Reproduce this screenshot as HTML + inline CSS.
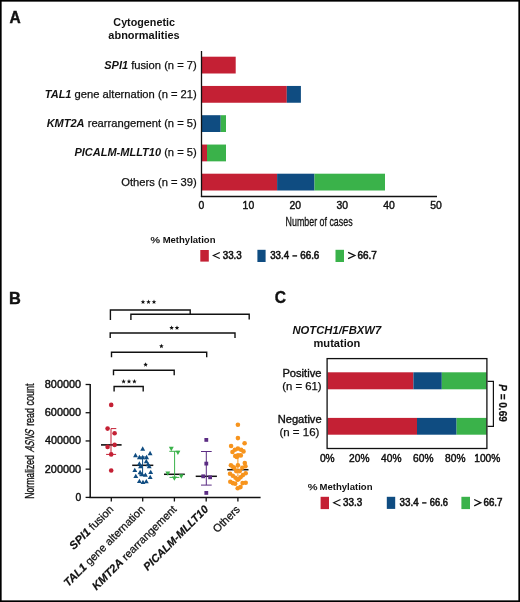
<!DOCTYPE html>
<html><head><meta charset="utf-8"><title>Figure</title><style>
html,body{margin:0;padding:0;background:#fff;width:520px;height:602px;overflow:hidden}
svg{display:block;will-change:transform}
text{font-family:"Liberation Sans",sans-serif}
</style></head><body>
<svg width="520" height="602" viewBox="0 0 520 602">
<rect x="0" y="0" width="520" height="602" fill="#fff"/>
<text x="9.41" y="22.6" font-size="16.2" font-weight="bold" font-style="normal" fill="#111" textLength="11.21" lengthAdjust="spacingAndGlyphs" stroke="#111" stroke-width="0.4">A</text>
<text x="113.37" y="25.8" font-size="10.9" font-weight="bold" font-style="normal" fill="#111" textLength="61.59" lengthAdjust="spacingAndGlyphs" >Cytogenetic</text>
<text x="108.37" y="38.5" font-size="10.9" font-weight="bold" font-style="normal" fill="#111" textLength="71.29" lengthAdjust="spacingAndGlyphs" >abnormalities</text>
<rect x="201.50" y="56.70" width="34.20" height="16.80" fill="#C42034"/>
<text x="196.8" y="68.60000000000001" font-size="11" text-anchor="end" fill="#111"><tspan font-weight="bold" font-style="italic">SPI1</tspan><tspan font-size="11.2" stroke="#111" stroke-width="0.25"> fusion (n = 7)</tspan></text>
<rect x="201.50" y="85.95" width="85.30" height="16.80" fill="#C42034"/>
<rect x="286.80" y="85.95" width="14.10" height="16.80" fill="#0F4C81"/>
<text x="196.8" y="97.85000000000001" font-size="11" text-anchor="end" fill="#111"><tspan font-weight="bold" font-style="italic">TAL1</tspan><tspan font-size="11.2" stroke="#111" stroke-width="0.25"> gene alternation (n = 21)</tspan></text>
<rect x="201.50" y="115.20" width="19.20" height="16.80" fill="#0F4C81"/>
<rect x="220.70" y="115.20" width="5.30" height="16.80" fill="#3AB24A"/>
<text x="196.8" y="127.10000000000001" font-size="11" text-anchor="end" fill="#111"><tspan font-weight="bold" font-style="italic">KMT2A</tspan><tspan font-size="11.2" stroke="#111" stroke-width="0.25"> rearrangement (n = 5)</tspan></text>
<rect x="201.50" y="144.55" width="5.50" height="16.80" fill="#C42034"/>
<rect x="207.00" y="144.55" width="19.00" height="16.80" fill="#3AB24A"/>
<text x="196.8" y="156.45000000000002" font-size="11" text-anchor="end" fill="#111"><tspan font-weight="bold" font-style="italic">PICALM-MLLT10</tspan><tspan font-size="11.2" stroke="#111" stroke-width="0.25"> (n = 5)</tspan></text>
<rect x="201.50" y="173.70" width="75.60" height="16.80" fill="#C42034"/>
<rect x="277.10" y="173.70" width="37.40" height="16.80" fill="#0F4C81"/>
<rect x="314.50" y="173.70" width="70.50" height="16.80" fill="#3AB24A"/>
<text x="196.8" y="185.6" font-size="11.2" font-weight="normal" font-style="normal" text-anchor="end" fill="#111" stroke="#111" stroke-width="0.25">Others (n = 39)</text>
<line x1="201.5" y1="51" x2="201.5" y2="197" stroke="#111" stroke-width="1.3"/>
<line x1="200.9" y1="196.5" x2="437" y2="196.5" stroke="#111" stroke-width="1.3"/>
<text x="201.5" y="208.8" font-size="10.4" font-weight="normal" font-style="normal" text-anchor="middle" fill="#111" stroke="#111" stroke-width="0.42">0</text>
<text x="248.4" y="208.8" font-size="10.4" font-weight="normal" font-style="normal" text-anchor="middle" fill="#111" stroke="#111" stroke-width="0.42">10</text>
<text x="295.3" y="208.8" font-size="10.4" font-weight="normal" font-style="normal" text-anchor="middle" fill="#111" stroke="#111" stroke-width="0.42">20</text>
<text x="342.20000000000005" y="208.8" font-size="10.4" font-weight="normal" font-style="normal" text-anchor="middle" fill="#111" stroke="#111" stroke-width="0.42">30</text>
<text x="389.1" y="208.8" font-size="10.4" font-weight="normal" font-style="normal" text-anchor="middle" fill="#111" stroke="#111" stroke-width="0.42">40</text>
<text x="436.0" y="208.8" font-size="10.4" font-weight="normal" font-style="normal" text-anchor="middle" fill="#111" stroke="#111" stroke-width="0.42">50</text>
<text x="285.59" y="226" font-size="12.8" font-weight="normal" font-style="normal" fill="#111" textLength="67.01" lengthAdjust="spacingAndGlyphs" stroke="#111" stroke-width="0.3">Number of cases</text>
<text x="150.62" y="242.8" font-size="9.5" font-weight="normal" font-style="normal" fill="#111" textLength="9.54" lengthAdjust="spacingAndGlyphs" stroke="#111" stroke-width="0.25">%</text>
<text x="162.68" y="242.8" font-size="9.5" font-weight="bold" font-style="normal" fill="#111" textLength="52.80" lengthAdjust="spacingAndGlyphs" >Methylation</text>
<rect x="200.30" y="250.00" width="8.50" height="11.60" fill="#C42034"/>
<path d="M219.8,252.6 L213.3,255.60000000000002 L219.8,258.6" fill="none" stroke="#111" stroke-width="1.1"/>
<text x="222.71" y="258.9" font-size="10.1" font-weight="normal" font-style="normal" fill="#111" textLength="19.04" lengthAdjust="spacingAndGlyphs" stroke="#111" stroke-width="0.55">33.3</text>
<rect x="257.40" y="249.80" width="8.20" height="12.20" fill="#0F4C81"/>
<text x="270.21" y="258.9" font-size="10.1" font-weight="normal" font-style="normal" fill="#111" textLength="18.89" lengthAdjust="spacingAndGlyphs" stroke="#111" stroke-width="0.55">33.4</text>
<line x1="292.4" y1="255.9" x2="297.1" y2="255.9" stroke="#111" stroke-width="1.4"/>
<text x="300.21" y="258.9" font-size="10.1" font-weight="normal" font-style="normal" fill="#111" textLength="19.15" lengthAdjust="spacingAndGlyphs" stroke="#111" stroke-width="0.55">66.6</text>
<rect x="335.50" y="249.80" width="8.50" height="12.20" fill="#3AB24A"/>
<path d="M348.1,252.4 L354.8,255.5 L348.1,258.6" fill="none" stroke="#111" stroke-width="1.3"/>
<text x="357.40" y="258.9" font-size="10.1" font-weight="normal" font-style="normal" fill="#111" textLength="19.31" lengthAdjust="spacingAndGlyphs" stroke="#111" stroke-width="0.55">66.7</text>
<text x="8.93" y="303.6" font-size="16.2" font-weight="bold" font-style="normal" fill="#111" textLength="11.84" lengthAdjust="spacingAndGlyphs" stroke="#111" stroke-width="0.4">B</text>
<line x1="90.2" y1="384" x2="90.2" y2="498.1" stroke="#111" stroke-width="1.5"/>
<line x1="89.4" y1="497.4" x2="260.6" y2="497.4" stroke="#111" stroke-width="1.5"/>
<line x1="85.6" y1="497.4" x2="90.2" y2="497.4" stroke="#111" stroke-width="1.3"/>
<text x="75.49" y="500.84999999999997" font-size="10.4" font-weight="normal" font-style="normal" fill="#111" textLength="5.74" lengthAdjust="spacingAndGlyphs" stroke="#111" stroke-width="0.42">0</text>
<line x1="85.6" y1="469.17499999999995" x2="90.2" y2="469.17499999999995" stroke="#111" stroke-width="1.3"/>
<text x="44.75" y="472.62499999999994" font-size="10.4" font-weight="normal" font-style="normal" fill="#111" textLength="36.40" lengthAdjust="spacingAndGlyphs" stroke="#111" stroke-width="0.42">200000</text>
<line x1="85.6" y1="440.95" x2="90.2" y2="440.95" stroke="#111" stroke-width="1.3"/>
<text x="45.03" y="444.4" font-size="10.4" font-weight="normal" font-style="normal" fill="#111" textLength="36.13" lengthAdjust="spacingAndGlyphs" stroke="#111" stroke-width="0.42">400000</text>
<line x1="85.6" y1="412.72499999999997" x2="90.2" y2="412.72499999999997" stroke="#111" stroke-width="1.3"/>
<text x="44.75" y="416.17499999999995" font-size="10.4" font-weight="normal" font-style="normal" fill="#111" textLength="36.40" lengthAdjust="spacingAndGlyphs" stroke="#111" stroke-width="0.42">600000</text>
<line x1="85.6" y1="384.5" x2="90.2" y2="384.5" stroke="#111" stroke-width="1.3"/>
<text x="44.81" y="387.95" font-size="10.4" font-weight="normal" font-style="normal" fill="#111" textLength="36.35" lengthAdjust="spacingAndGlyphs" stroke="#111" stroke-width="0.42">800000</text>
<line x1="111.3" y1="497.4" x2="111.3" y2="501.5" stroke="#111" stroke-width="1.3"/>
<line x1="142.7" y1="497.4" x2="142.7" y2="501.5" stroke="#111" stroke-width="1.3"/>
<line x1="174.4" y1="497.4" x2="174.4" y2="501.5" stroke="#111" stroke-width="1.3"/>
<line x1="206.2" y1="497.4" x2="206.2" y2="501.5" stroke="#111" stroke-width="1.3"/>
<line x1="237.9" y1="497.4" x2="237.9" y2="501.5" stroke="#111" stroke-width="1.3"/>
<g transform="rotate(-90)">
<text x="-498.69" y="33.8" font-size="12.8" font-weight="normal" font-style="normal" fill="#111" textLength="43.57" lengthAdjust="spacingAndGlyphs" stroke="#111" stroke-width="0.35">Normalized</text>
<g transform="translate(0,33.8) skewX(-16) translate(0,-33.8)">
<text x="-452.24" y="33.8" font-size="12.8" font-weight="normal" font-style="normal" fill="#111" textLength="21.83" lengthAdjust="spacingAndGlyphs" stroke="#111" stroke-width="0.35">ASNS</text>
</g>
<text x="-425.87" y="33.8" font-size="12.8" font-weight="normal" font-style="normal" fill="#111" textLength="17.66" lengthAdjust="spacingAndGlyphs" stroke="#111" stroke-width="0.35">read</text>
<text x="-405.61" y="33.8" font-size="12.8" font-weight="normal" font-style="normal" fill="#111" textLength="22.06" lengthAdjust="spacingAndGlyphs" stroke="#111" stroke-width="0.35">count</text>
</g>
<path d="M110.4,320 V310 H190.2 V314.3" fill="none" stroke="#111" stroke-width="1.4"/>
<path d="M130.9,320 V314.3 H249.2 V319.5" fill="none" stroke="#111" stroke-width="1.4"/>
<path d="M110.2,338 V333 H235 V338" fill="none" stroke="#111" stroke-width="1.4"/>
<path d="M111.5,357.3 V352.2 H206.7 V357.3" fill="none" stroke="#111" stroke-width="1.4"/>
<path d="M113.5,375.2 V370.2 H174.2 V375.2" fill="none" stroke="#111" stroke-width="1.4"/>
<path d="M114.1,391.5 V386.5 H143.2 V391.5" fill="none" stroke="#111" stroke-width="1.4"/>
<polygon points="143.00,299.60 143.63,301.13 145.28,301.26 144.03,302.33 144.41,303.94 143.00,303.08 141.59,303.94 141.97,302.33 140.72,301.26 142.37,301.13" fill="#111"/>
<polygon points="148.50,299.60 149.13,301.13 150.78,301.26 149.53,302.33 149.91,303.94 148.50,303.08 147.09,303.94 147.47,302.33 146.22,301.26 147.87,301.13" fill="#111"/>
<polygon points="154.00,299.60 154.63,301.13 156.28,301.26 155.03,302.33 155.41,303.94 154.00,303.08 152.59,303.94 152.97,302.33 151.72,301.26 153.37,301.13" fill="#111"/>
<polygon points="171.60,325.40 172.23,326.93 173.88,327.06 172.63,328.13 173.01,329.74 171.60,328.88 170.19,329.74 170.57,328.13 169.32,327.06 170.97,326.93" fill="#111"/>
<polygon points="177.00,325.40 177.63,326.93 179.28,327.06 178.03,328.13 178.41,329.74 177.00,328.88 175.59,329.74 175.97,328.13 174.72,327.06 176.37,326.93" fill="#111"/>
<polygon points="161.40,343.80 162.03,345.33 163.68,345.46 162.43,346.53 162.81,348.14 161.40,347.28 159.99,348.14 160.37,346.53 159.12,345.46 160.77,345.33" fill="#111"/>
<polygon points="145.60,362.30 146.23,363.83 147.88,363.96 146.63,365.03 147.01,366.64 145.60,365.78 144.19,366.64 144.57,365.03 143.32,363.96 144.97,363.83" fill="#111"/>
<polygon points="123.60,379.10 124.23,380.63 125.88,380.76 124.63,381.83 125.01,383.44 123.60,382.58 122.19,383.44 122.57,381.83 121.32,380.76 122.97,380.63" fill="#111"/>
<polygon points="129.00,379.10 129.63,380.63 131.28,380.76 130.03,381.83 130.41,383.44 129.00,382.58 127.59,383.44 127.97,381.83 126.72,380.76 128.37,380.63" fill="#111"/>
<polygon points="134.40,379.10 135.03,380.63 136.68,380.76 135.43,381.83 135.81,383.44 134.40,382.58 132.99,383.44 133.37,381.83 132.12,380.76 133.77,380.63" fill="#111"/>
<line x1="101" y1="444.9" x2="121.6" y2="444.9" stroke="#111" stroke-width="1.6"/>
<path d="M111,428.6 V454.4 M111,428.6 H116.3 M106.1,454.4 H116.1" fill="none" stroke="#C42034" stroke-width="1.0"/>
<circle cx="111.2" cy="404.9" r="2.3" fill="#C42034"/>
<circle cx="107.6" cy="428.6" r="2.3" fill="#C42034"/>
<circle cx="114.6" cy="433.3" r="2.3" fill="#C42034"/>
<circle cx="114.6" cy="444.9" r="2.3" fill="#C42034"/>
<circle cx="107.6" cy="446.9" r="2.3" fill="#C42034"/>
<circle cx="111.2" cy="454.4" r="2.3" fill="#C42034"/>
<circle cx="111.2" cy="470.5" r="2.3" fill="#C42034"/>
<line x1="132.2" y1="465.3" x2="153.3" y2="465.3" stroke="#111" stroke-width="1.5"/>
<path d="M142.6,457 V475 M139,457 H146.5 M139,475 H146.5" fill="none" stroke="#0F4C81" stroke-width="1.0"/>
<polygon points="140.25,450.63 145.15,450.63 142.70,446.37" fill="#0F4C81"/>
<polygon points="133.05,457.13 137.95,457.13 135.50,452.87" fill="#0F4C81"/>
<polygon points="147.65,455.13 152.55,455.13 150.10,450.87" fill="#0F4C81"/>
<polygon points="136.95,459.13 141.85,459.13 139.40,454.87" fill="#0F4C81"/>
<polygon points="140.25,459.13 145.15,459.13 142.70,454.87" fill="#0F4C81"/>
<polygon points="144.15,459.13 149.05,459.13 146.60,454.87" fill="#0F4C81"/>
<polygon points="143.85,463.13 148.75,463.13 146.30,458.87" fill="#0F4C81"/>
<polygon points="136.95,465.53 141.85,465.53 139.40,461.27" fill="#0F4C81"/>
<polygon points="145.55,466.13 150.45,466.13 148.00,461.87" fill="#0F4C81"/>
<polygon points="138.15,468.13 143.05,468.13 140.60,463.87" fill="#0F4C81"/>
<polygon points="146.75,468.13 151.65,468.13 149.20,463.87" fill="#0F4C81"/>
<polygon points="132.35,472.03 137.25,472.03 134.80,467.77" fill="#0F4C81"/>
<polygon points="137.65,474.13 142.55,474.13 140.10,469.87" fill="#0F4C81"/>
<polygon points="139.55,476.13 144.45,476.13 142.00,471.87" fill="#0F4C81"/>
<polygon points="148.25,473.93 153.15,473.93 150.70,469.67" fill="#0F4C81"/>
<polygon points="133.35,478.03 138.25,478.03 135.80,473.77" fill="#0F4C81"/>
<polygon points="142.95,476.83 147.85,476.83 145.40,472.57" fill="#0F4C81"/>
<polygon points="147.75,478.93 152.65,478.93 150.20,474.67" fill="#0F4C81"/>
<polygon points="136.95,483.03 141.85,483.03 139.40,478.77" fill="#0F4C81"/>
<polygon points="140.55,484.03 145.45,484.03 143.00,479.77" fill="#0F4C81"/>
<polygon points="143.85,483.33 148.75,483.33 146.30,479.07" fill="#0F4C81"/>
<line x1="164" y1="474.3" x2="184.8" y2="474.3" stroke="#111" stroke-width="1.5"/>
<path d="M174.6,451.3 V478 M169.3,451.3 H179.6 M169.5,477.4 H179.3" fill="none" stroke="#3AB24A" stroke-width="1.0"/>
<polygon points="168.85,446.87 173.75,446.87 171.30,451.13" fill="#3AB24A"/>
<polygon points="175.45,450.77 180.35,450.77 177.90,455.03" fill="#3AB24A"/>
<polygon points="165.35,471.57 170.25,471.57 167.80,475.83" fill="#3AB24A"/>
<polygon points="178.85,474.37 183.75,474.37 181.30,478.63" fill="#3AB24A"/>
<polygon points="171.95,476.47 176.85,476.47 174.40,480.73" fill="#3AB24A"/>
<line x1="195.7" y1="476.3" x2="216.9" y2="476.3" stroke="#111" stroke-width="1.5"/>
<path d="M206.3,451.5 V485.1 M201,451.5 H211.7 M201,485.1 H211.7" fill="none" stroke="#5B2C83" stroke-width="1.0"/>
<rect x="204.40" y="438.00" width="3.8" height="3.8" fill="#5B2C83"/>
<rect x="204.40" y="461.70" width="3.8" height="3.8" fill="#5B2C83"/>
<rect x="201.30" y="474.40" width="3.8" height="3.8" fill="#5B2C83"/>
<rect x="208.20" y="475.40" width="3.8" height="3.8" fill="#5B2C83"/>
<rect x="204.40" y="491.00" width="3.8" height="3.8" fill="#5B2C83"/>
<line x1="227.2" y1="469.7" x2="248.5" y2="469.7" stroke="#111" stroke-width="1.5"/>
<path d="M237.9,457 V476" fill="none" stroke="#F7941D" stroke-width="1.0"/>
<circle cx="237.9" cy="424.7" r="2.3" fill="#F7941D"/>
<circle cx="237.9" cy="438.1" r="2.3" fill="#F7941D"/>
<circle cx="244.6" cy="443.3" r="2.3" fill="#F7941D"/>
<circle cx="231.1" cy="446" r="2.3" fill="#F7941D"/>
<circle cx="232.5" cy="452" r="2.3" fill="#F7941D"/>
<circle cx="234.9" cy="449.8" r="2.3" fill="#F7941D"/>
<circle cx="237.9" cy="448.6" r="2.3" fill="#F7941D"/>
<circle cx="241.1" cy="449.8" r="2.3" fill="#F7941D"/>
<circle cx="243.5" cy="451.4" r="2.3" fill="#F7941D"/>
<circle cx="235.2" cy="456" r="2.3" fill="#F7941D"/>
<circle cx="238" cy="455.4" r="2.3" fill="#F7941D"/>
<circle cx="240.8" cy="455.4" r="2.3" fill="#F7941D"/>
<circle cx="236.8" cy="457" r="2.3" fill="#F7941D"/>
<circle cx="230.9" cy="465.2" r="2.3" fill="#F7941D"/>
<circle cx="232.8" cy="466.8" r="2.3" fill="#F7941D"/>
<circle cx="234.3" cy="468" r="2.3" fill="#F7941D"/>
<circle cx="237.9" cy="465.2" r="2.3" fill="#F7941D"/>
<circle cx="244.8" cy="463.1" r="2.3" fill="#F7941D"/>
<circle cx="245.4" cy="466.2" r="2.3" fill="#F7941D"/>
<circle cx="242.3" cy="467.7" r="2.3" fill="#F7941D"/>
<circle cx="236.2" cy="471.1" r="2.3" fill="#F7941D"/>
<circle cx="239.8" cy="471.1" r="2.3" fill="#F7941D"/>
<circle cx="230" cy="473.8" r="2.3" fill="#F7941D"/>
<circle cx="232.8" cy="475.7" r="2.3" fill="#F7941D"/>
<circle cx="235.5" cy="477.8" r="2.3" fill="#F7941D"/>
<circle cx="237.4" cy="479.7" r="2.3" fill="#F7941D"/>
<circle cx="245.7" cy="473.2" r="2.3" fill="#F7941D"/>
<circle cx="242.9" cy="475.1" r="2.3" fill="#F7941D"/>
<circle cx="240.5" cy="477.2" r="2.3" fill="#F7941D"/>
<circle cx="238.6" cy="479.1" r="2.3" fill="#F7941D"/>
<circle cx="230.3" cy="481.8" r="2.3" fill="#F7941D"/>
<circle cx="232.8" cy="483.1" r="2.3" fill="#F7941D"/>
<circle cx="235.2" cy="483.7" r="2.3" fill="#F7941D"/>
<circle cx="242.6" cy="483.1" r="2.3" fill="#F7941D"/>
<circle cx="245.7" cy="482.8" r="2.3" fill="#F7941D"/>
<circle cx="237.7" cy="488.3" r="2.3" fill="#F7941D"/>
<circle cx="240.5" cy="487.1" r="2.3" fill="#F7941D"/>
<text transform="translate(114.1,510) rotate(-45)" font-size="11" text-anchor="end" fill="#111"><tspan font-weight="bold" font-style="italic" font-size="11.3" stroke="#111" stroke-width="0.2">SPI1</tspan><tspan stroke="#111" stroke-width="0.25"> fusion</tspan></text>
<text transform="translate(145.5,510) rotate(-45)" font-size="11" text-anchor="end" fill="#111"><tspan font-weight="bold" font-style="italic" font-size="11.3" stroke="#111" stroke-width="0.2">TAL1</tspan><tspan stroke="#111" stroke-width="0.25"> gene alternation</tspan></text>
<text transform="translate(177.20000000000002,510) rotate(-45)" font-size="11" text-anchor="end" fill="#111"><tspan font-weight="bold" font-style="italic" font-size="11.3" stroke="#111" stroke-width="0.2">KMT2A</tspan><tspan stroke="#111" stroke-width="0.25"> rearrangement</tspan></text>
<text transform="translate(209.0,510) rotate(-45)" font-size="11" text-anchor="end" fill="#111"><tspan font-weight="bold" font-style="italic" font-size="11.0" stroke="#111" stroke-width="0.2">PICALM-MLLT10</tspan></text>
<text transform="translate(240.70000000000002,510) rotate(-45)" font-size="11" text-anchor="end" fill="#111"><tspan stroke="#111" stroke-width="0.25">Others</tspan></text>
<text x="274.78" y="303.4" font-size="16.2" font-weight="bold" font-style="normal" fill="#111" textLength="11.25" lengthAdjust="spacingAndGlyphs" stroke="#111" stroke-width="0.4">C</text>
<text x="292.48" y="333.9" font-size="10.4" font-weight="bold" font-style="italic" fill="#111" textLength="88.67" lengthAdjust="spacingAndGlyphs" >NOTCH1/FBXW7</text>
<text x="313.48" y="346.6" font-size="10.6" font-weight="bold" font-style="normal" fill="#111" textLength="46.91" lengthAdjust="spacingAndGlyphs" >mutation</text>
<rect x="327.60" y="372.30" width="85.80" height="17.00" fill="#C42034"/>
<rect x="413.40" y="372.30" width="28.40" height="17.00" fill="#0F4C81"/>
<rect x="441.80" y="372.30" width="44.80" height="17.00" fill="#3AB24A"/>
<rect x="327.60" y="417.90" width="89.40" height="16.80" fill="#C42034"/>
<rect x="417.00" y="417.90" width="39.60" height="16.80" fill="#0F4C81"/>
<rect x="456.60" y="417.90" width="30.00" height="16.80" fill="#3AB24A"/>
<rect x="327.1" y="358.6" width="159.8" height="89.9" fill="none" stroke="#111" stroke-width="1.3"/>
<text x="282.41" y="377.3" font-size="10" font-weight="normal" font-style="normal" fill="#111" textLength="39.01" lengthAdjust="spacingAndGlyphs" stroke="#111" stroke-width="0.35">Positive</text>
<text x="282.22" y="390.1" font-size="10.6" font-weight="normal" font-style="normal" fill="#111" textLength="39.41" lengthAdjust="spacingAndGlyphs" stroke="#111" stroke-width="0.25">(n = 61)</text>
<text x="277.71" y="422.7" font-size="10" font-weight="normal" font-style="normal" fill="#111" textLength="43.91" lengthAdjust="spacingAndGlyphs" stroke="#111" stroke-width="0.35">Negative</text>
<text x="279.41" y="435.5" font-size="10.6" font-weight="normal" font-style="normal" fill="#111" textLength="40.03" lengthAdjust="spacingAndGlyphs" stroke="#111" stroke-width="0.25">(n = 16)</text>
<text x="327.3" y="461.9" font-size="10.2" font-weight="normal" font-style="normal" text-anchor="middle" fill="#111" stroke="#111" stroke-width="0.45">0%</text>
<text x="359.3" y="461.9" font-size="10.2" font-weight="normal" font-style="normal" text-anchor="middle" fill="#111" stroke="#111" stroke-width="0.45">20%</text>
<text x="391.3" y="461.9" font-size="10.2" font-weight="normal" font-style="normal" text-anchor="middle" fill="#111" stroke="#111" stroke-width="0.45">40%</text>
<text x="423.3" y="461.9" font-size="10.2" font-weight="normal" font-style="normal" text-anchor="middle" fill="#111" stroke="#111" stroke-width="0.45">60%</text>
<text x="455.3" y="461.9" font-size="10.2" font-weight="normal" font-style="normal" text-anchor="middle" fill="#111" stroke="#111" stroke-width="0.45">80%</text>
<text x="487.3" y="461.9" font-size="10.2" font-weight="normal" font-style="normal" text-anchor="middle" fill="#111" stroke="#111" stroke-width="0.45">100%</text>
<path d="M487.5,381.4 H493.4 V426.4 H487.5" fill="none" stroke="#111" stroke-width="1.2"/>
<text transform="translate(499.4,403) rotate(90)" font-size="10" font-weight="bold" text-anchor="middle" fill="#111" stroke="#111" stroke-width="0.25"><tspan font-style="italic">P</tspan> = 0.69</text>
<text x="307.72" y="489.6" font-size="9.5" font-weight="normal" font-style="normal" fill="#111" textLength="9.76" lengthAdjust="spacingAndGlyphs" stroke="#111" stroke-width="0.25">%</text>
<text x="319.48" y="489.6" font-size="9.5" font-weight="bold" font-style="normal" fill="#111" textLength="53.00" lengthAdjust="spacingAndGlyphs" >Methylation</text>
<rect x="320.60" y="496.80" width="8.40" height="12.30" fill="#C42034"/>
<path d="M340.5,499.5 L333.6,502.7 L340.5,505.9" fill="none" stroke="#111" stroke-width="1.1"/>
<text x="343.01" y="506" font-size="10.1" font-weight="normal" font-style="normal" fill="#111" textLength="19.15" lengthAdjust="spacingAndGlyphs" stroke="#111" stroke-width="0.55">33.3</text>
<rect x="386.80" y="496.80" width="8.40" height="12.10" fill="#0F4C81"/>
<text x="399.51" y="506" font-size="10.1" font-weight="normal" font-style="normal" fill="#111" textLength="19.10" lengthAdjust="spacingAndGlyphs" stroke="#111" stroke-width="0.55">33.4</text>
<line x1="422.1" y1="502.9" x2="426.5" y2="502.9" stroke="#111" stroke-width="1.4"/>
<text x="429.84" y="506" font-size="10.1" font-weight="normal" font-style="normal" fill="#111" textLength="18.10" lengthAdjust="spacingAndGlyphs" stroke="#111" stroke-width="0.55">66.6</text>
<rect x="461.40" y="496.80" width="8.60" height="12.30" fill="#3AB24A"/>
<path d="M474.2,499.5 L480.8,502.7 L474.2,505.9" fill="none" stroke="#111" stroke-width="1.3"/>
<text x="483.51" y="506" font-size="10.1" font-weight="normal" font-style="normal" fill="#111" textLength="18.99" lengthAdjust="spacingAndGlyphs" stroke="#111" stroke-width="0.55">66.7</text>
<rect x="0.82" y="0.82" width="518.36" height="600.36" fill="none" stroke="#000" stroke-width="1.65"/>
</svg>
</body></html>
